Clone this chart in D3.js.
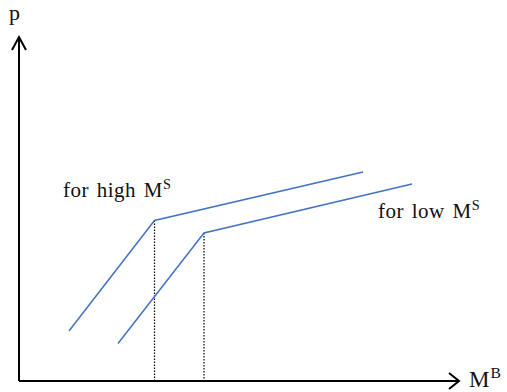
<!DOCTYPE html>
<html>
<head>
<meta charset="utf-8">
<script src="https://cdn.jsdelivr.net/npm/d3@7"></script>
<style>
  html, body { margin: 0; padding: 0; background: #fff; }
  svg { display: block; }
  text { font-family: "Liberation Serif", "DejaVu Serif", serif; fill: #111; }
</style>
</head>
<body>
<svg id="chart" width="507" height="392"></svg>
<script>
// Data (abstract units: x = M^B, y = p)
const highMS = [ {x: 50, y: 50}, {x: 135.5, y: 160.5}, {x: 344, y: 209} ];
const lowMS  = [ {x: 99, y: 37.5}, {x: 185, y: 148}, {x: 393, y: 197} ];
const kinks = [ highMS[1], lowMS[1] ];
const labels = [
  {text: "for high M", sup: "S", x: 44, y: 184},
  {text: "for low M",  sup: "S", x: 359, y: 163}
];
const axisLabelX = {text: "M", sup: "B"};
const axisLabelY = "p";

const svg = d3.select("#chart");
const x = d3.scaleLinear().domain([0, 443]).range([19, 462]);
const y = d3.scaleLinear().domain([0, 344]).range([381, 37]);

// axes
const axis = svg.append("g").attr("stroke", "#000").attr("stroke-width", 2).attr("fill", "none");
axis.append("line").attr("x1", x(0)).attr("y1", y(0)).attr("x2", x(0)).attr("y2", y(344));
axis.append("line").attr("x1", x(0)).attr("y1", y(0)).attr("x2", x(440)).attr("y2", y(0));
// arrowheads (open chevrons)
axis.append("path").attr("d", `M${x(0)-7},${y(344)+13} L${x(0)},${y(344)} L${x(0)+7},${y(344)+13}`)
  .attr("stroke-linejoin", "miter");
axis.append("path").attr("d", `M${x(440)-10},${y(0)-8} L${x(440)},${y(0)} L${x(440)-10},${y(0)+8}`)
  .attr("stroke-linejoin", "miter");

// dotted verticals
svg.append("g").selectAll("line").data(kinks).join("line")
  .attr("x1", d => x(d.x)).attr("x2", d => x(d.x))
  .attr("y1", d => y(d.y)).attr("y2", y(0))
  .attr("stroke", "#000").attr("stroke-width", 1.2).attr("stroke-dasharray", "1.5,1.5");

// curves
const line = d3.line().x(d => x(d.x)).y(d => y(d.y));
svg.append("g").selectAll("path").data([highMS, lowMS]).join("path")
  .attr("d", line).attr("fill", "none")
  .attr("stroke", "#4472C4").attr("stroke-width", 1.5);

// labels
function supText(g, t, s, px, py, size, ls, ws) {
  const tx = g.append("text").attr("x", px).attr("y", py).attr("font-size", size)
    .attr("letter-spacing", ls).attr("word-spacing", ws);
  tx.append("tspan").text(t);
  tx.append("tspan").attr("dy", -size * 0.4).attr("font-size", size * 0.68).text(s);
}
labels.forEach(l => supText(svg, l.text, l.sup, x(l.x), y(l.y), 21, 0.5, 2));
supText(svg, axisLabelX.text, axisLabelX.sup, 469, 387, 23, 1, 0);
svg.append("text").attr("x", 9).attr("y", 20).attr("font-size", 22).text(axisLabelY);
</script>
</body>
</html>
